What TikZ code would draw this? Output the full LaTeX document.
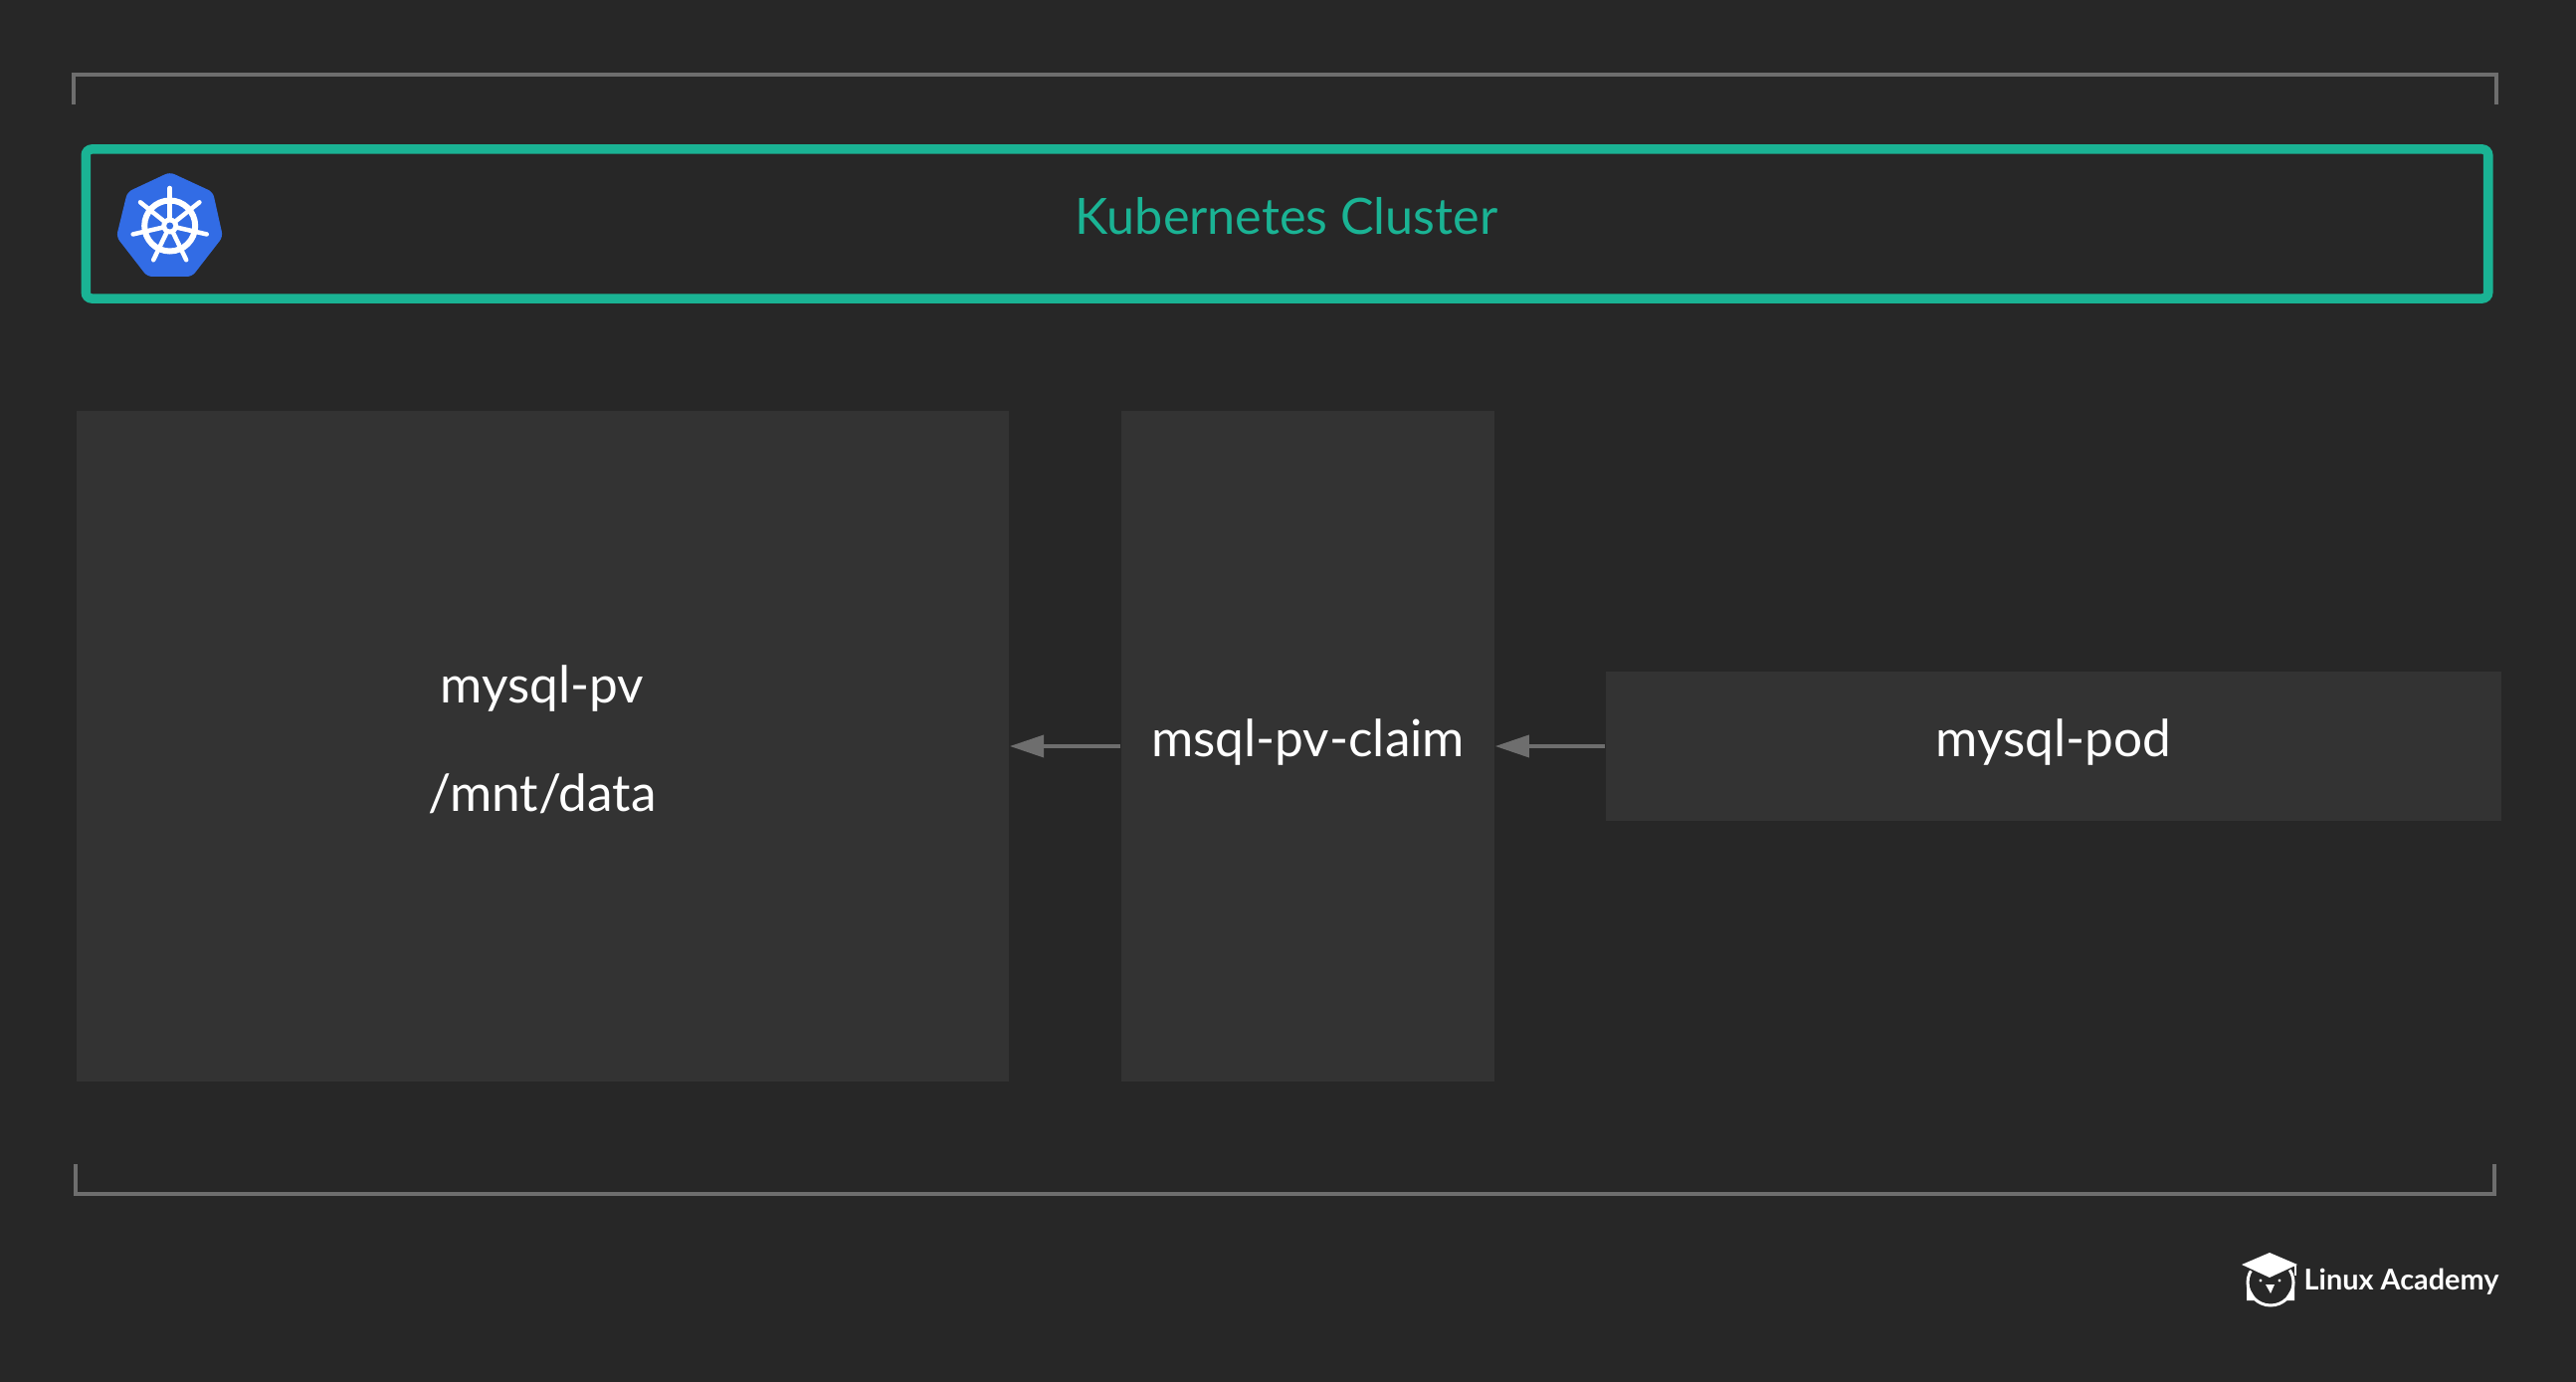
\documentclass[tikz,border=0pt]{standalone}
\usepackage{fontspec}
\setmainfont{Lato}
\usetikzlibrary{arrows.meta}
\definecolor{bgdark}{HTML}{272727}
\definecolor{boxgray}{HTML}{333333}
\definecolor{linegray}{HTML}{6E6E6E}
\definecolor{clustergreen}{HTML}{1AB394}
\definecolor{kubeblue}{HTML}{326CE5}
\tikzset{> = {Triangle[length=0.34cm, width=0.22cm]}}
\tikzset{
  panel/.style={fill=boxgray, inner sep=0pt},
  lbl/.style={text=white, font=\fontsize{14.6}{17}\selectfont, anchor=base, inner sep=0pt},
  frameline/.style={draw=linegray, line width=0.04cm},
  flow/.style={->, draw=linegray, line width=0.035cm}
}

\begin{document}
\begin{tikzpicture}[x=0.01cm, y=-0.01cm]
\useasboundingbox[fill=bgdark] (0,0) rectangle (2589,1389);
% brackets
\draw[frameline] (74,105) -- (74,75) -- (2509,75) -- (2509,105);
\draw[frameline] (76,1170) -- (76,1200) -- (2507,1200) -- (2507,1170);
% cluster bar
\node[draw=clustergreen, line width=0.095cm, rounded corners=0.06cm, minimum width=24.13cm, minimum height=1.5cm, inner sep=0pt] (cluster) at (1293.5,225) {};
\node[lbl, text=clustergreen, font=\fontsize{14.3}{17}\selectfont] (clustertext) at (1293,236) {Kubernetes Cluster};
% kubernetes badge
\fill[kubeblue, rounded corners=0.05cm] (170.7,173) -- (214,193) -- (224,238) -- (193,278) -- (148,278) -- (117,238) -- (128,193) -- cycle;
\draw[white, line width=0.06cm] (170.7,227) circle (25.5);
\foreach \k in {0,...,6} {
  \draw[white, line width=0.045cm, line cap=round] (170.7,227) -- ++({90+\k*360/7}:-38);
}
\fill[white] (170.7,227) circle (8.5);
\fill[kubeblue] (170.7,227) circle (3.5);
% boxes
\node[panel, minimum width=9.37cm, minimum height=6.74cm] (pv) at (545.5,750) {};
\node[panel, minimum width=3.75cm, minimum height=6.74cm] (claim) at (1314.5,750) {};
\node[panel, minimum width=9cm, minimum height=1.49cm] (pod) at (2064,750) {};
% labels
\node[lbl] (pvname) at (545,707) {mysql-pv};
\node[lbl] (pvpath) at (545,815) {/mnt/data};
\node[lbl] (claimname) at (1314.5,760) {msql-pv-claim};
\node[lbl] (podname) at (2064,760) {mysql-pod};
% arrows
\draw[flow] (pod) -- (claim);
\draw[flow] (claim) -- (pv);
% owl logo
\draw[white, line width=0.03cm] (2282,1289) circle (23);
\fill[white] (2258,1290) -- (2258,1307) -- (2268,1307) -- cycle;
\fill[white] (2306,1290) -- (2306,1307) -- (2296,1307) -- cycle;
\fill[bgdark] (2250,1270) -- (2281,1256) -- (2312,1270) -- (2281,1288) -- cycle;
\fill[white] (2253,1271) -- (2281,1259) -- (2309,1271) -- (2281,1284) -- cycle;
\draw[white, line width=0.012cm] (2307,1272) -- (2307,1282);
\fill[white] (2272,1287) circle (1.6);
\fill[white] (2291,1287) circle (1.6);
\fill[white] (2277,1291) -- (2286,1291) -- (2282,1300) -- cycle;
\node[text=white, font=\fontsize{8.2}{10}\selectfont\bfseries, anchor=base west, inner sep=0pt] (brand) at (2315,1296.5) {Linux Academy};
\end{tikzpicture}
\end{document}
